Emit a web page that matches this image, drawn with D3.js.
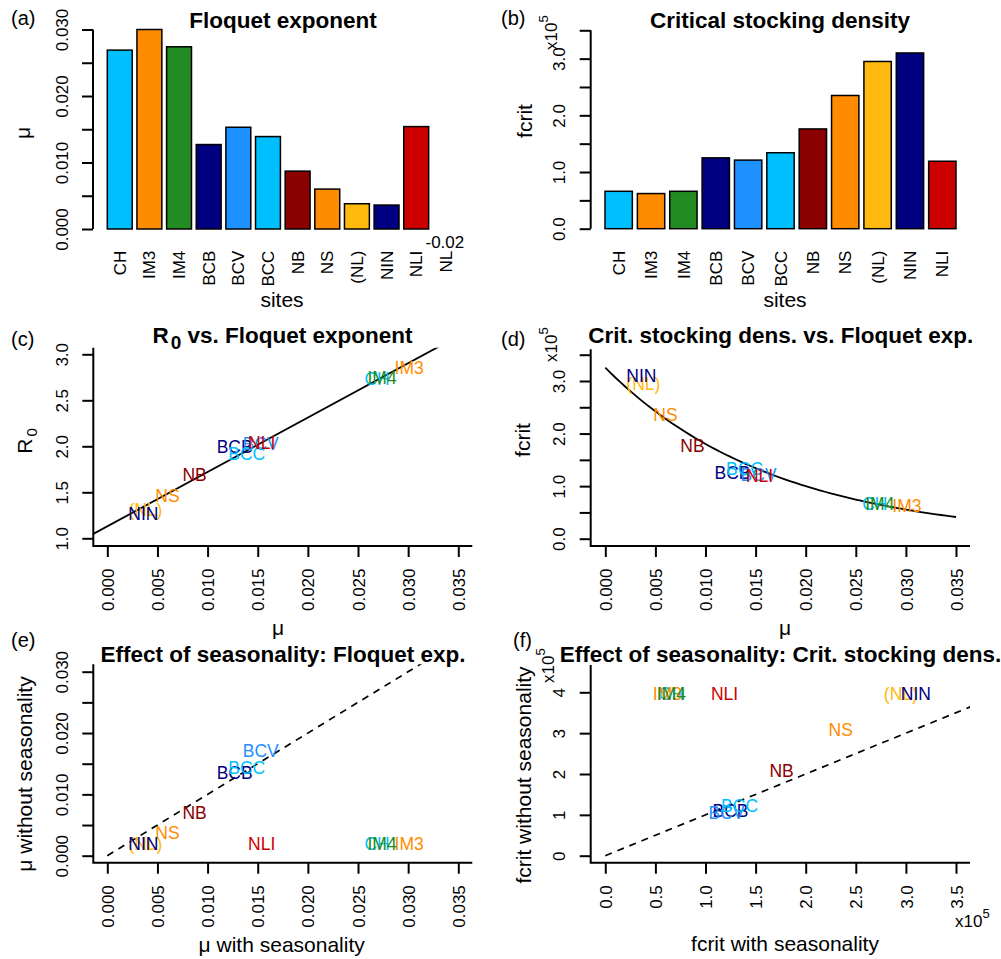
<!DOCTYPE html>
<html>
<head>
<meta charset="utf-8">
<script src="https://cdn.jsdelivr.net/npm/d3@7"></script>
<style>
    body { margin: 0; background: #fff; }
    svg text { font-family: "Liberation Sans", Arial, Helvetica, sans-serif; fill: #000; }
</style>
</head>
<body>
<svg id="chart" width="1001" height="959"></svg>
<script>
// ---- data ----
const sites = ["CH", "IM3", "IM4", "BCB", "BCV", "BCC", "NB", "NS", "(NL)", "NIN", "NLI"];
const siteColors = ["#00BFFF", "#FF8C00", "#228B22", "#000080", "#1E90FF", "#00BFFF",
                    "#8B0000", "#FF8C00", "#FFB90F", "#000080", "#CD0000"];

// Floquet exponent with seasonality
const mu = [0.0269, 0.0301, 0.0274, 0.0127, 0.0153, 0.0139, 0.0087, 0.0060, 0.0038, 0.0036, 0.0154];
// panel (a) has one more site, off the scale
const muBarSites = sites.concat(["NL"]);
const muBarValues = mu.concat([-0.02]);
const muBarNote = "-0.02";

// critical stocking density, x10^5
const fcrit = [0.66, 0.62, 0.66, 1.25, 1.21, 1.34, 1.76, 2.35, 2.95, 3.10, 1.19];
// basic reproduction number
const r0 = [2.73, 2.85, 2.75, 2.00, 2.03, 1.92, 1.69, 1.46, 1.315, 1.27, 2.04];
// without seasonality
const muNoSeason = [0.0019, 0.0019, 0.0019, 0.01353, 0.01712, 0.01441, 0.00701, 0.00381, 0.0019, 0.0019, 0.0019];
const fcritNoSeason = [3.96, 3.96, 3.96, 1.095, 1.053, 1.225, 2.08, 3.095, 3.96, 3.96, 3.96];

// fitted relations drawn over the points
const r0Fit = {intercept: 1.13, slope: 59.1};
const fcritFit = {a: 3.253, k: 59};

// tick values and labels
const muTicks = [0, 0.005, 0.01, 0.015, 0.02, 0.025, 0.03];
const muTickLabels = ["0.000", "", "0.010", "", "0.020", "", "0.030"];
const fcritTicks = [0, 0.5, 1, 1.5, 2, 2.5, 3, 3.5];
const fcritTickLabels = ["0.0", "", "1.0", "", "2.0", "", "3.0", ""];
const r0Ticks = [1, 1.5, 2, 2.5, 3];
const r0TickLabels = ["1.0", "1.5", "2.0", "2.5", "3.0"];
const muXTicks = [0, 0.005, 0.01, 0.015, 0.02, 0.025, 0.03, 0.035];
const muXTickLabels = ["0.000", "0.005", "0.010", "0.015", "0.020", "0.025", "0.030", "0.035"];
const fcritXTicks = [0, 0.5, 1, 1.5, 2, 2.5, 3, 3.5];
const fcritXTickLabels = ["0.0", "0.5", "1.0", "1.5", "2.0", "2.5", "3.0", "3.5"];
const fcritNoTicks = [0, 1, 2, 3, 4];
const fcritNoTickLabels = ["0", "1", "2", "3", "4"];

// ---- drawing ----
const TICK = 17, LAB = 21, MAIN = 22.5, PT = 17.5, TAG = 20;
const svg = d3.select("#chart");
const defs = svg.append("defs");

function labelFor(ticks, labels) {
    return v => labels[ticks.indexOf(v)];
}

function leftAxis(g, scale, x, ticks, labels, lineTop, lineBottom) {
    let ax = g.append("g")
        .attr("transform", "translate(" + x + ",0)")
        .call(d3.axisLeft(scale).tickValues(ticks).tickSize(11).tickSizeOuter(0)
            .tickFormat(labelFor(ticks, labels)));
    ax.select(".domain").remove();
    ax.attr("font-family", null).attr("font-size", null);
    ax.selectAll("line").attr("stroke", "#000").attr("stroke-width", 2);
    ax.selectAll("text")
        .attr("x", null).attr("dy", null)
        .attr("transform", "translate(-25.3,0) rotate(-90)")
        .attr("text-anchor", "middle")
        .attr("font-size", TICK);
    if (lineTop !== undefined) {
        g.append("line")
            .attr("x1", x).attr("x2", x)
            .attr("y1", lineTop).attr("y2", lineBottom)
            .attr("stroke", "#000").attr("stroke-width", 2);
    }
}

function bottomAxis(g, scale, y, ticks, labels) {
    let ax = g.append("g")
        .attr("transform", "translate(0," + y + ")")
        .call(d3.axisBottom(scale).tickValues(ticks).tickSize(11).tickSizeOuter(0)
            .tickFormat(labelFor(ticks, labels)));
    ax.select(".domain").remove();
    ax.attr("font-family", null).attr("font-size", null);
    ax.selectAll("line").attr("stroke", "#000").attr("stroke-width", 2);
    ax.selectAll("text")
        .attr("y", null).attr("dy", null)
        .attr("transform", "translate(6.1,22.5) rotate(-90)")
        .attr("text-anchor", "end")
        .attr("font-size", TICK);
}

function tag(x, y, s) {
    svg.append("text").attr("x", x).attr("y", y).attr("font-size", TAG).text(s);
}

function title(x, y, s) {
    return svg.append("text").attr("x", x).attr("y", y)
        .attr("text-anchor", "middle").attr("font-size", MAIN).attr("font-weight", "bold").text(s);
}

function xLabel(x, y, s) {
    svg.append("text").attr("x", x).attr("y", y)
        .attr("text-anchor", "middle").attr("font-size", LAB).text(s);
}

function yLabel(x, y, s) {
    return svg.append("text")
        .attr("transform", "translate(" + x + "," + y + ") rotate(-90)")
        .attr("text-anchor", "middle").attr("font-size", LAB).text(s);
}

// "x10^5" multiplier
function sci(x, y, rotated) {
    let t = svg.append("text").attr("font-size", TICK);
    if (rotated) t.attr("transform", "translate(" + x + "," + y + ") rotate(-90)");
    else t.attr("x", x).attr("y", y);
    t.append("tspan").text("x10");
    t.append("tspan").attr("dy", -9).attr("font-size", 13).text("5");
}

// ---------- (a) Floquet exponent bars ----------
{
    let g = svg.append("g");
    let x = d3.scaleBand().domain(muBarSites).range([107.3, 458.3]).paddingInner(0.16).paddingOuter(0);
    let y = d3.scaleLinear().domain([0, 0.03]).range([229, 29.5]).clamp(true);

    g.selectAll("rect").data(muBarValues).enter().append("rect")
        .attr("x", (d, i) => x(muBarSites[i]))
        .attr("width", x.bandwidth())
        .attr("y", d => y(Math.max(d, 0)))
        .attr("height", d => Math.abs(y(d) - y(0)))
        .attr("fill", (d, i) => siteColors[i] || "none")
        .attr("stroke", "#000").attr("stroke-width", 1.5);

    leftAxis(g, y, 93, muTicks, muTickLabels, y(0), y(0.03));

    g.selectAll(".site").data(muBarSites).enter().append("text")
        .attr("class", "site")
        .attr("transform", d => "translate(" + (x(d) + x.bandwidth() / 2 + 6.1) + ",250.7) rotate(-90)")
        .attr("text-anchor", "end").attr("font-size", TICK).text(d => d);

    g.append("text").attr("x", x("NL") + x.bandwidth() / 2 - 1).attr("y", 248)
        .attr("text-anchor", "middle").attr("font-size", TICK).text(muBarNote);

    tag(11, 25, "(a)");
    title(283, 28, "Floquet exponent");
    xLabel(282, 307, "sites");
    yLabel(30, 133, "μ");
}

// ---------- (b) critical stocking density bars ----------
{
    let g = svg.append("g");
    let x = d3.scaleBand().domain(sites).range([605, 956]).paddingInner(0.155).paddingOuter(0);
    let y = d3.scaleLinear().domain([0, 3.5]).range([228.7, 30.3]);

    g.selectAll("rect").data(fcrit).enter().append("rect")
        .attr("x", (d, i) => x(sites[i]))
        .attr("width", x.bandwidth())
        .attr("y", d => y(d))
        .attr("height", d => y(0) - y(d))
        .attr("fill", (d, i) => siteColors[i])
        .attr("stroke", "#000").attr("stroke-width", 1.5);

    leftAxis(g, y, 590.7, fcritTicks, fcritTickLabels, y(0), y(3.5));

    g.selectAll(".site").data(sites).enter().append("text")
        .attr("class", "site")
        .attr("transform", d => "translate(" + (x(d) + x.bandwidth() / 2 + 6.1) + ",250.7) rotate(-90)")
        .attr("text-anchor", "end").attr("font-size", TICK).text(d => d);

    sci(557, 50, true);
    tag(501, 25, "(b)");
    title(780, 28, "Critical stocking density");
    xLabel(785, 307, "sites");
    yLabel(531.5, 121, "fcrit");
}

// ---------- scatter panel helper ----------
function scatter(cfg) {
    let g = svg.append("g");
    let id = "clip-" + cfg.name;
    defs.append("clipPath").attr("id", id).append("rect")
        .attr("x", cfg.left).attr("y", cfg.top)
        .attr("width", cfg.right - cfg.left).attr("height", cfg.bottom - cfg.top);

    let plot = g.append("g").attr("clip-path", "url(#" + id + ")");
    cfg.draw(plot);

    plot.selectAll(".pt").data(cfg.xs).enter().append("text")
        .attr("class", "pt")
        .attr("x", d => cfg.x(d))
        .attr("y", (d, i) => cfg.y(cfg.ys[i]))
        .attr("dy", "0.36em")
        .attr("text-anchor", "middle")
        .attr("font-size", PT)
        .style("fill", (d, i) => siteColors[i])
        .text((d, i) => sites[i]);

    // L-shaped box
    g.append("path")
        .attr("d", "M" + cfg.left + "," + cfg.top + "V" + cfg.bottom + "H" + cfg.right)
        .attr("fill", "none").attr("stroke", "#000").attr("stroke-width", 2);

    leftAxis(g, cfg.y, cfg.left, cfg.yTicks, cfg.yTickLabels);
    bottomAxis(g, cfg.x, cfg.bottom, cfg.xTicks, cfg.xTickLabels);
}

// ---------- (c) R0 vs Floquet exponent ----------
{
    let x = d3.scaleLinear().domain([0, 0.035]).range([107.3, 458.3]);
    let y = d3.scaleLinear().domain([1, 3]).range([538.3, 354.3]);
    scatter({
        name: "c", left: 93.3, right: 472.3, top: 347.7, bottom: 546,
        x: x, y: y, xs: mu, ys: r0,
        xTicks: muXTicks, xTickLabels: muXTickLabels,
        yTicks: r0Ticks, yTickLabels: r0TickLabels,
        draw: p => {
            let xd = x.invert(93.3), xe = x.invert(472.3);
            p.append("line")
                .attr("x1", x(xd)).attr("y1", y(r0Fit.intercept + r0Fit.slope * xd))
                .attr("x2", x(xe)).attr("y2", y(r0Fit.intercept + r0Fit.slope * xe))
                .attr("stroke", "#000").attr("stroke-width", 1.8);
        }
    });
    tag(11, 346, "(c)");
    let t = title(282.5, 343.3, "R");
    t.append("tspan").attr("dx", 2).attr("dy", 6).attr("font-size", 19).text("0");
    t.append("tspan").attr("dy", -6).text(" vs. Floquet exponent");
    let yl = yLabel(31.7, 441, "R");
    yl.append("tspan").attr("dx", 2).attr("dy", 5).attr("font-size", 15).text("0");
    xLabel(278, 635, "μ");
}

// ---------- (d) critical stocking density vs Floquet exponent ----------
{
    let x = d3.scaleLinear().domain([0, 0.035]).range([605.3, 956]);
    let y = d3.scaleLinear().domain([0, 3]).range([538.7, 381]);
    scatter({
        name: "d", left: 590.7, right: 970, top: 349.3, bottom: 546,
        x: x, y: y, xs: mu, ys: fcrit,
        xTicks: muXTicks, xTickLabels: muXTickLabels,
        yTicks: fcritTicks, yTickLabels: fcritTickLabels,
        draw: p => {
            let grid = d3.range(0, 0.03501, 0.0005);
            let line = d3.line()
                .x(d => x(d))
                .y(d => y(fcritFit.a * Math.exp(-fcritFit.k * d)));
            p.append("path").attr("d", line(grid))
                .attr("fill", "none").attr("stroke", "#000").attr("stroke-width", 1.8);
        }
    });
    sci(557, 362, true);
    tag(501, 346, "(d)");
    title(780.7, 343.3, "Crit. stocking dens. vs. Floquet exp.");
    yLabel(530, 440, "fcrit");
    xLabel(785, 635, "μ");
}

// ---------- (e) seasonality effect on Floquet exponent ----------
{
    let x = d3.scaleLinear().domain([0, 0.035]).range([107.3, 458.3]);
    let y = d3.scaleLinear().domain([0, 0.03]).range([855.7, 671.7]);
    scatter({
        name: "e", left: 93.3, right: 472.3, top: 664.3, bottom: 862.7,
        x: x, y: y, xs: mu, ys: muNoSeason,
        xTicks: muXTicks, xTickLabels: muXTickLabels,
        yTicks: muTicks, yTickLabels: muTickLabels,
        draw: p => {
            p.append("line")
                .attr("x1", x(0)).attr("y1", y(0))
                .attr("x2", x(0.04)).attr("y2", y(0.04))
                .attr("stroke", "#000").attr("stroke-width", 1.7)
                .attr("stroke-dasharray", "7,6");
        }
    });
    tag(11, 646.5, "(e)");
    title(283, 661.7, "Effect of seasonality: Floquet exp.");
    yLabel(31.5, 774, "μ without seasonality");
    xLabel(281.7, 952, "μ with seasonality");
}

// ---------- (f) seasonality effect on critical stocking density ----------
{
    let x = d3.scaleLinear().domain([0, 3.5]).range([605.3, 956]);
    let y = d3.scaleLinear().domain([0, 4]).range([855.7, 692.3]);
    scatter({
        name: "f", left: 590.7, right: 970, top: 665, bottom: 862.7,
        x: x, y: y, xs: fcrit, ys: fcritNoSeason,
        xTicks: fcritXTicks, xTickLabels: fcritXTickLabels,
        yTicks: fcritNoTicks, yTickLabels: fcritNoTickLabels,
        draw: p => {
            p.append("line")
                .attr("x1", x(0)).attr("y1", y(0))
                .attr("x2", x(5)).attr("y2", y(5))
                .attr("stroke", "#000").attr("stroke-width", 1.7)
                .attr("stroke-dasharray", "7,6");
        }
    });
    sci(554, 683, true);
    sci(955, 927, false);
    tag(513, 646.5, "(f)");
    title(780.5, 661.7, "Effect of seasonality: Crit. stocking dens.");
    yLabel(531, 775, "fcrit without seasonality");
    xLabel(785, 951, "fcrit with seasonality");
}
</script>
</body>
</html>
